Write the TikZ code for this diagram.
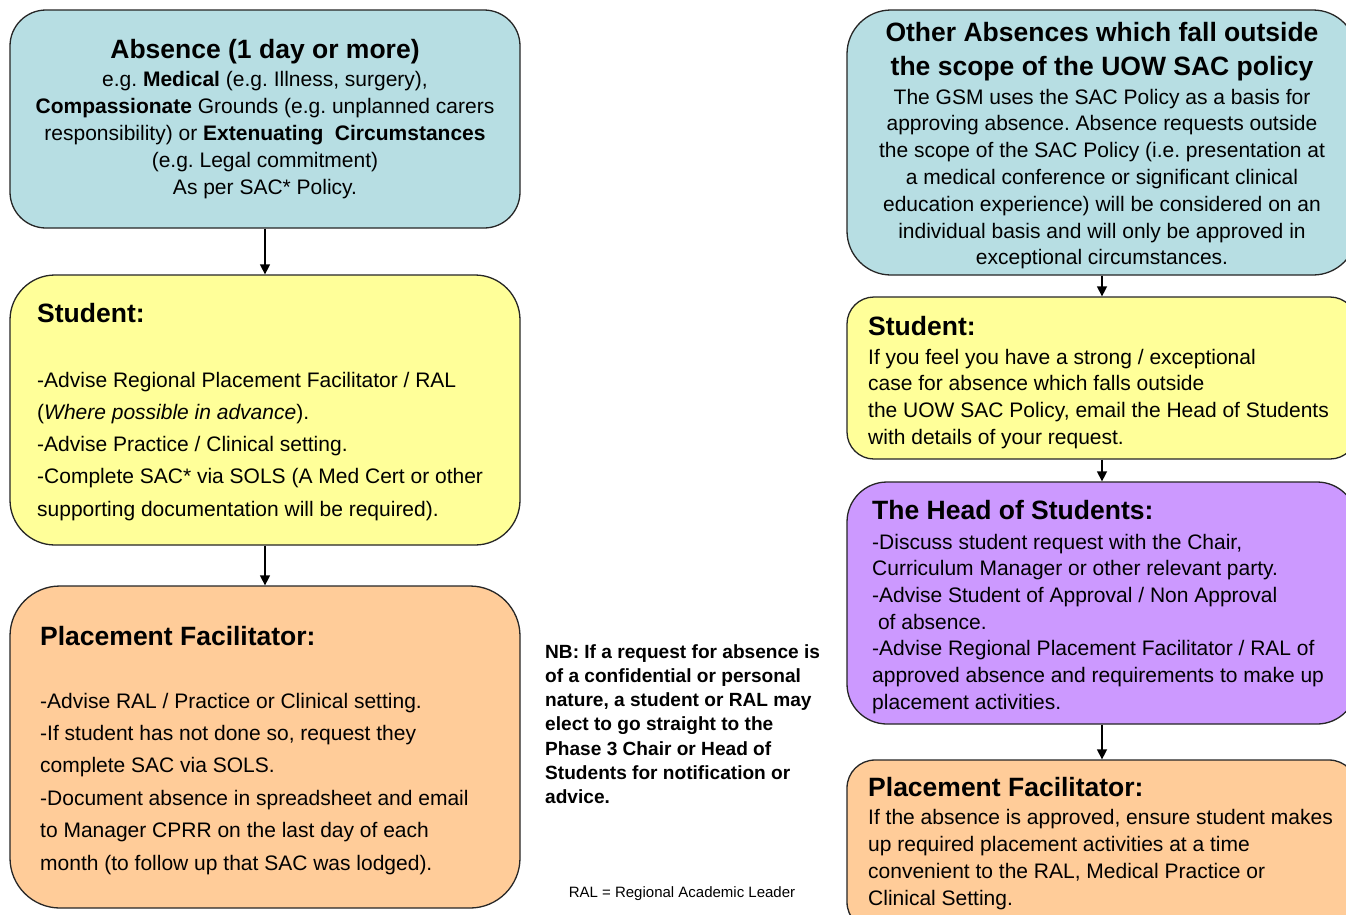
\documentclass[tikz,border=0pt]{standalone}
\usepackage{fontspec}
\setmainfont{Liberation Sans}
\usetikzlibrary{arrows.meta}
\frenchspacing

\definecolor{boxteal}{HTML}{B7DEE3}
\definecolor{boxyellow}{HTML}{FFFF99}
\definecolor{boxorange}{HTML}{FFCC99}
\definecolor{boxpurple}{HTML}{CC99FF}

\tikzset{
  box/.style={draw=black!85, line width=1.3pt, minimum width=510pt, inner sep=0pt},
  title/.style={inner sep=0pt, font=\fontsize{26.5}{30}\selectfont\bfseries},
  txt/.style={inner sep=0pt, anchor=base west, font=\fontsize{21}{24}\selectfont},
  ctxt/.style={txt, anchor=base},
  rtxt/.style={txt, font=\fontsize{21}{24}\selectfont},
  arr/.style={line width=1.4pt, -{Triangle[length=10pt,width=10pt]}}
}

\begin{document}
\begin{tikzpicture}[x=1pt,y=-1pt]
\fill[white] (0,0) rectangle (1346,914);
\clip (0,0) rectangle (1346,914);

% left column
\node[box, fill=boxteal, minimum height=218pt, rounded corners=36pt] (absence) at (265,119) {};
\node[box, fill=boxyellow, minimum height=270pt, rounded corners=45pt] (student) at (265,410) {};
\node[box, fill=boxorange, minimum height=322pt, rounded corners=50pt] (facil) at (265,747) {};
\draw[arr] (absence) -- (student);
\draw[arr] (student) -- (facil);

\node[title, anchor=base] (absence-t) at (265,58) {Absence (1 day or more)};
\foreach \t [count=\i] in {{e.g. \textbf{Medical} (e.g. Illness, surgery),},
  {\textbf{Compassionate} Grounds (e.g. unplanned carers},
  {responsibility) or \textbf{Extenuating\ \ Circumstances}},
  {(e.g. Legal commitment)},
  {As per SAC* Policy.}}{
  \node[ctxt] (absence-\i) at (265,59+27*\i) {\t};
}

\node[title, anchor=base west] (student-t) at (37,322) {Student:};
\foreach \t [count=\i] in {{-Advise Regional Placement Facilitator / RAL},
  {(\textit{Where possible in advance}).},
  {-Advise Practice / Clinical setting.},
  {-Complete SAC* via SOLS (A Med Cert or other},
  {supporting documentation will be required).}}{
  \node[txt] (student-\i) at (37,354.7+32.3*\i) {\t};
}

\node[title, anchor=base west] (facil-t) at (40,645) {Placement Facilitator:};
\foreach \t [count=\i] in {{-Advise RAL / Practice or Clinical setting.},
  {-If student has not done so, request they},
  {complete SAC via SOLS.},
  {-Document absence in spreadsheet and email},
  {to Manager CPRR on the last day of each},
  {month (to follow up that SAC was lodged).}}{
  \node[txt] (facil-\i) at (40,675.6+32.4*\i) {\t};
}

% middle notes
\foreach \t [count=\i] in {{NB: If a request for absence is},
  {of a confidential or personal},
  {nature, a student or RAL may},
  {elect to go straight to the},
  {Phase 3 Chair or Head of},
  {Students for notification or},
  {advice.}}{
  \node[txt, font=\fontsize{19.1}{22}\selectfont\bfseries] (nb-\i) at (545,634.3+24.17*\i) {\t};
}
\node[ctxt, font=\fontsize{15}{18}\selectfont] (ral) at (682,897) {RAL = Regional Academic Leader};

% right column
\node[box, fill=boxteal, minimum height=265pt, rounded corners=44pt] (other) at (1102,142.5) {};
\node[box, fill=boxyellow, minimum height=162pt, rounded corners=27pt] (ostudent) at (1102,378) {};
\node[box, fill=boxpurple, minimum height=242pt, rounded corners=40pt] (head) at (1102,603) {};
\node[box, fill=boxorange, minimum height=170pt, rounded corners=28pt] (ofacil) at (1102,845) {};
\draw[arr] (other) -- (ostudent);
\draw[arr] (ostudent) -- (head);
\draw[arr] (head) -- (ofacil);

\node[title, anchor=base] (other-t1) at (1102,41) {Other Absences which fall outside};
\node[title, anchor=base] (other-t2) at (1102,75) {the scope of the UOW SAC policy};
\foreach \t [count=\i] in {{The GSM uses the SAC Policy as a basis for},
  {approving absence. Absence requests outside},
  {the scope of the SAC Policy (i.e. presentation at},
  {a medical conference or significant clinical},
  {education experience) will be considered on an},
  {individual basis and will only be approved in},
  {exceptional circumstances.}}{
  \node[rtxt, anchor=base] (other-\i) at (1102,77.2+26.8*\i) {\t};
}

\node[title, anchor=base west] (ostudent-t) at (868,335) {Student:};
\foreach \t [count=\i] in {{If you feel you have a strong / exceptional},
  {case for absence which falls outside},
  {the UOW SAC Policy, email the Head of Students},
  {with details of your request.}}{
  \node[rtxt] (ostudent-\i) at (868,337.3+26.7*\i) {\t};
}

\node[title, anchor=base west] (head-t) at (872,519) {The Head of Students:};
\foreach \t [count=\i] in {{-Discuss student request with the Chair,},
  {Curriculum Manager or other relevant party.},
  {-Advise Student of Approval / Non Approval},
  {\ of absence.},
  {-Advise Regional Placement Facilitator / RAL of},
  {approved absence and requirements to make up},
  {placement activities.}}{
  \node[rtxt] (head-\i) at (872,522.3+26.7*\i) {\t};
}

\node[title, anchor=base west] (ofacil-t) at (868,796) {Placement Facilitator:};
\foreach \t [count=\i] in {{If the absence is approved, ensure student makes},
  {up required placement activities at a time},
  {convenient to the RAL, Medical Practice or},
  {Clinical Setting.}}{
  \node[rtxt] (ofacil-\i) at (868,797+27*\i) {\t};
}
\end{tikzpicture}
\end{document}
